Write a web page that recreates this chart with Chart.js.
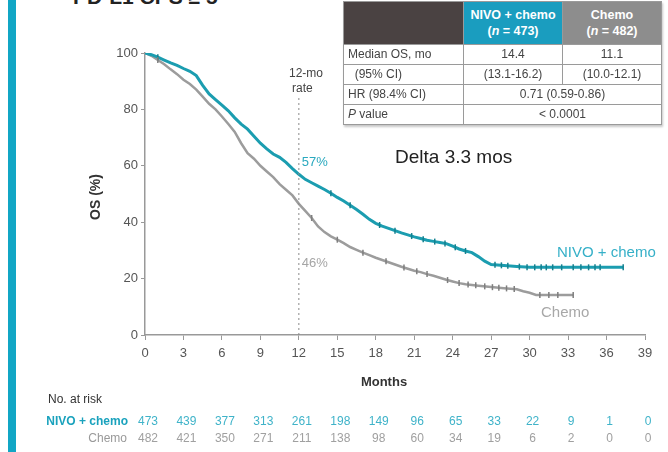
<!DOCTYPE html>
<html>
<head>
<meta charset="utf-8">
<script src="https://cdn.jsdelivr.net/npm/chart.js@4.4.1/dist/chart.umd.min.js"></script>
<style>
  html, body { margin: 0; padding: 0; background: #fff; }
  #wrap { position: relative; width: 668px; height: 452px; overflow: hidden; font-family: "Liberation Sans", Arial, sans-serif; }
  #bar { position: absolute; left: 8px; top: 0; width: 8px; height: 452px; background: #11a6c5; }
  #title { position: absolute; left: 73px; top: -15px; font-size: 21px; font-weight: bold; color: #222; white-space: nowrap; }
  #tbl { position: absolute; left: 343px; top: 1px; width: 318px; table-layout: fixed; border-collapse: collapse; box-shadow: 1px 2px 2px #c8c8c8; font-size: 12px; color: #444; }
  #tbl td { border: 1px solid #9a9a9a; padding: 0 4px; height: 19px; line-height: 19px; white-space: nowrap; overflow: hidden; }
  #tbl th { height: 42px; padding: 0; color: #fff; font-weight: bold; font-size: 12.5px; line-height: 16px; border: 1px solid #9a9a9a; }
  #tbl .c { text-align: center; }
  canvas { position: absolute; left: 0; top: 0; }
</style>
</head>
<body>
<div id="wrap">
  <div id="bar"></div>
  <div id="title">PD-L1 CPS ≥ 5</div>
  <canvas id="km" width="668" height="452"></canvas>
  <table id="tbl">
    <colgroup><col style="width:120px"><col style="width:99px"><col style="width:99px"></colgroup>
    <tr>
      <th style="background:#4a4242;"></th>
      <th style="background:#1a9dbf;">NIVO + chemo<br>(<i>n</i> = 473)</th>
      <th style="background:#8d8d8d;">Chemo<br>(<i>n</i> = 482)</th>
    </tr>
    <tr><td>Median OS, mo</td><td class="c">14.4</td><td class="c">11.1</td></tr>
    <tr><td>&nbsp;&nbsp;(95% CI)</td><td class="c">(13.1-16.2)</td><td class="c">(10.0-12.1)</td></tr>
    <tr><td>HR (98.4% CI)</td><td class="c" colspan="2">0.71 (0.59-0.86)</td></tr>
    <tr><td><i>P</i> value</td><td class="c" colspan="2">&lt; 0.0001</td></tr>
  </table>
</div>
<script>
// KM curves (months, OS %)
const nivoMonths = [0, 0.5, 1, 1.5, 2, 2.5, 3, 3.5, 4, 4.5, 5, 5.5, 6, 6.5, 7, 7.5, 8, 8.5, 9, 9.5, 10, 10.5, 11, 11.5, 12, 12.5, 13, 13.5, 14, 14.5, 15, 15.5, 16, 16.5, 17, 17.5, 18, 18.5, 19, 19.5, 20, 20.5, 21, 21.5, 22, 22.5, 23, 23.5, 24, 24.5, 25, 25.5, 26, 26.5, 27, 27.5, 29, 30, 37.3];
const nivoOS = [100, 99.4, 98.5, 97.5, 96.5, 95.6, 94.5, 93.5, 92, 88.5, 85.5, 83.5, 81.5, 79.5, 77, 74.8, 73, 70.5, 68, 66, 64.2, 63, 61.2, 59, 57, 55.2, 54, 52.8, 51.6, 50.3, 48.8, 47.5, 46, 44.5, 42.8, 41, 39.6, 38.6, 37.8, 37, 36.2, 35.5, 34.8, 34.2, 33.6, 33.2, 32.8, 32.4, 31.5, 30.5, 29.8, 29.2, 27.8, 26.2, 25, 24.8, 24.3, 24, 24];
const chemoMonths = [0, 0.5, 1, 1.5, 2, 2.5, 3, 3.5, 4, 4.5, 5, 5.5, 6, 6.5, 7, 7.5, 8, 8.5, 9, 9.5, 10, 10.5, 11, 11.5, 12, 12.5, 13, 13.5, 14, 14.5, 15, 15.5, 16, 16.5, 17, 17.5, 18, 18.5, 19, 19.5, 20, 20.5, 21, 21.5, 22, 22.5, 23, 23.5, 24, 24.5, 25, 26, 27, 28, 29, 29.5, 30, 30.5, 33.4];
const chemoOS = [100, 99, 97.5, 96, 94.2, 92.5, 90.5, 89, 87, 84.5, 82, 80, 77.5, 74.8, 72, 68, 64.5, 62.5, 60, 58, 56, 53.5, 51.5, 49.5, 46.5, 44, 41.5, 38.5, 36.5, 35, 33.8, 32.6, 31.2, 30.2, 29.2, 28.3, 27.4, 26.6, 25.8, 25, 24.2, 23.5, 22.8, 22.3, 21.6, 21, 20.3, 19.6, 19, 18.4, 18, 17.5, 17, 16.6, 16.2, 15.5, 15, 14.2, 14.2];

// censoring ticks (months)
const nivoCensor = [1, 14.5, 16, 18.3, 19.5, 20.8, 21.7, 22.6, 23.4, 24.2, 25, 27.3, 27.8, 28.3, 29.2, 29.8, 30.4, 30.9, 31.3, 31.8, 32.5, 33.4, 34, 34.6, 35.1, 35.5, 37.3];
const chemoCensor = [1, 13, 15, 17, 18.8, 20.2, 21.2, 22, 23.6, 24.5, 25.2, 25.8, 26.5, 27.1, 27.6, 28.2, 28.8, 30.8, 31.5, 32.2, 33.4];

// number at risk
const riskMonths = [0, 3, 6, 9, 12, 15, 18, 21, 24, 27, 30, 33, 36, 39];
const nivoRisk = [473, 439, 377, 313, 261, 198, 149, 96, 65, 33, 22, 9, 1, 0];
const chemoRisk = [482, 421, 350, 271, 211, 138, 98, 60, 34, 19, 6, 2, 0, 0];

const rate12 = { month: 12, nivo: 57, chemo: 46 };

const TEAL = '#1b9db0';
const GREY = '#9c9c9c';

function pts(xs, ys) { return xs.map((x, i) => ({ x: x, y: ys[i] })); }
// value of the curve at month m (linear between read points, as drawn)
function curveAt(xs, ys, m) {
    for (let i = 1; i < xs.length; i++) {
        if (m <= xs[i]) {
            const t = (m - xs[i - 1]) / (xs[i] - xs[i - 1]);
            return ys[i - 1] + t * (ys[i] - ys[i - 1]);
        }
    }
    return ys[ys.length - 1];
}
function censorPts(cs, xs, ys) { return cs.map(m => ({ x: m, y: curveAt(xs, ys, m) })); }

const extras = {
    id: 'extras',
    afterDraw(chart) {
        const ctx = chart.ctx;
        const xs = chart.scales.x;
        const area = chart.chartArea;
        ctx.save();
        // 12-month dotted line
        const x12 = xs.getPixelForValue(rate12.month);
        ctx.strokeStyle = '#8a8a8a';
        ctx.lineWidth = 1;
        ctx.setLineDash([2, 3]);
        ctx.beginPath();
        ctx.moveTo(x12, 98);
        ctx.lineTo(x12, area.bottom);
        ctx.stroke();
        ctx.setLineDash([]);

        ctx.textBaseline = 'middle';
        ctx.textAlign = 'left';
        ctx.font = '12px "Liberation Sans", Arial';
        ctx.fillStyle = '#444';
        ctx.fillText('12-mo', 289, 74);
        ctx.fillText('rate', 292, 89);

        ctx.font = '13px "Liberation Sans", Arial';
        ctx.fillStyle = '#2aa9bf';
        ctx.fillText(rate12.nivo + '%', x12 + 3, 162);
        ctx.fillStyle = '#a5a5a5';
        ctx.fillText(rate12.chemo + '%', x12 + 3, 263);

        ctx.font = '19px "Liberation Sans", Arial';
        ctx.fillStyle = '#222';
        ctx.fillText('Delta 3.3 mos', 395, 158);

        ctx.font = '15px "Liberation Sans", Arial';
        ctx.fillStyle = '#36b0c8';
        ctx.fillText('NIVO + chemo', 557, 253);
        ctx.fillStyle = '#a8a8a8';
        ctx.fillText('Chemo', 541, 313);

        // axis titles
        ctx.textAlign = 'center';
        ctx.font = 'bold 13px "Liberation Sans", Arial';
        ctx.fillStyle = '#333';
        ctx.fillText('Months', 384, 382);
        ctx.save();
        ctx.translate(96, 197);
        ctx.rotate(-Math.PI / 2);
        ctx.font = 'bold 14px "Liberation Sans", Arial';
        ctx.fillText('OS (%)', 0, 0);
        ctx.restore();

        // number at risk
        ctx.textAlign = 'left';
        ctx.font = '12px "Liberation Sans", Arial';
        ctx.fillStyle = '#333';
        ctx.fillText('No. at risk', 48, 400);
        ctx.textAlign = 'right';
        ctx.font = 'bold 12px "Liberation Sans", Arial';
        ctx.fillStyle = '#1aa2bd';
        ctx.fillText('NIVO + chemo', 128, 422);
        ctx.font = '12px "Liberation Sans", Arial';
        ctx.fillStyle = '#999';
        ctx.fillText('Chemo', 127, 439);
        ctx.textAlign = 'center';
        riskMonths.forEach((m, i) => {
            const px = xs.getPixelForValue(m) + 3;
            ctx.fillStyle = '#3fb3c9';
            ctx.fillText(String(nivoRisk[i]), px, 422);
            ctx.fillStyle = '#a0a0a0';
            ctx.fillText(String(chemoRisk[i]), px, 439);
        });
        ctx.restore();
    }
};

new Chart(document.getElementById('km'), {
    type: 'line',
    data: {
        datasets: [
            {
                label: 'Chemo',
                data: pts(chemoMonths, chemoOS),
                borderColor: GREY,
                borderWidth: 2.5,
                pointRadius: 0,
                order: 2
            },
            {
                label: 'NIVO + chemo',
                data: pts(nivoMonths, nivoOS),
                borderColor: TEAL,
                borderWidth: 3,
                pointRadius: 0,
                order: 1
            },
            {
                label: 'Chemo censored',
                data: censorPts(chemoCensor, chemoMonths, chemoOS),
                showLine: false,
                pointStyle: 'line',
                rotation: 90,
                pointRadius: 3,
                borderColor: '#7e7e7e',
                borderWidth: 1.5,
                order: 0
            },
            {
                label: 'NIVO censored',
                data: censorPts(nivoCensor, nivoMonths, nivoOS),
                showLine: false,
                pointStyle: 'line',
                rotation: 90,
                pointRadius: 3,
                borderColor: '#13808f',
                borderWidth: 1.5,
                order: 0
            }
        ]
    },
    options: {
        responsive: false,
        animation: false,
        layout: { padding: { top: 53, right: 23, left: 0, bottom: 0 } },
        plugins: {
            legend: { display: false },
            tooltip: { enabled: false }
        },
        scales: {
            x: {
                type: 'linear',
                min: 0,
                max: 39,
                afterFit: s => { s.height = 117; },
                grid: { drawOnChartArea: false, color: '#999', tickLength: 5 },
                border: { color: '#999', width: 1.5 },
                ticks: {
                    stepSize: 3,
                    padding: 6,
                    color: '#555',
                    font: { family: '"Liberation Sans", Arial', size: 13 }
                }
            },
            y: {
                min: 0,
                max: 100,
                afterFit: s => { s.width = 145; },
                grid: { drawOnChartArea: false, color: '#999', tickLength: 4 },
                border: { color: '#999', width: 1.5 },
                ticks: {
                    stepSize: 20,
                    padding: 3,
                    color: '#555',
                    font: { family: '"Liberation Sans", Arial', size: 13 }
                }
            }
        }
    },
    plugins: [extras]
});
</script>
</body>
</html>
